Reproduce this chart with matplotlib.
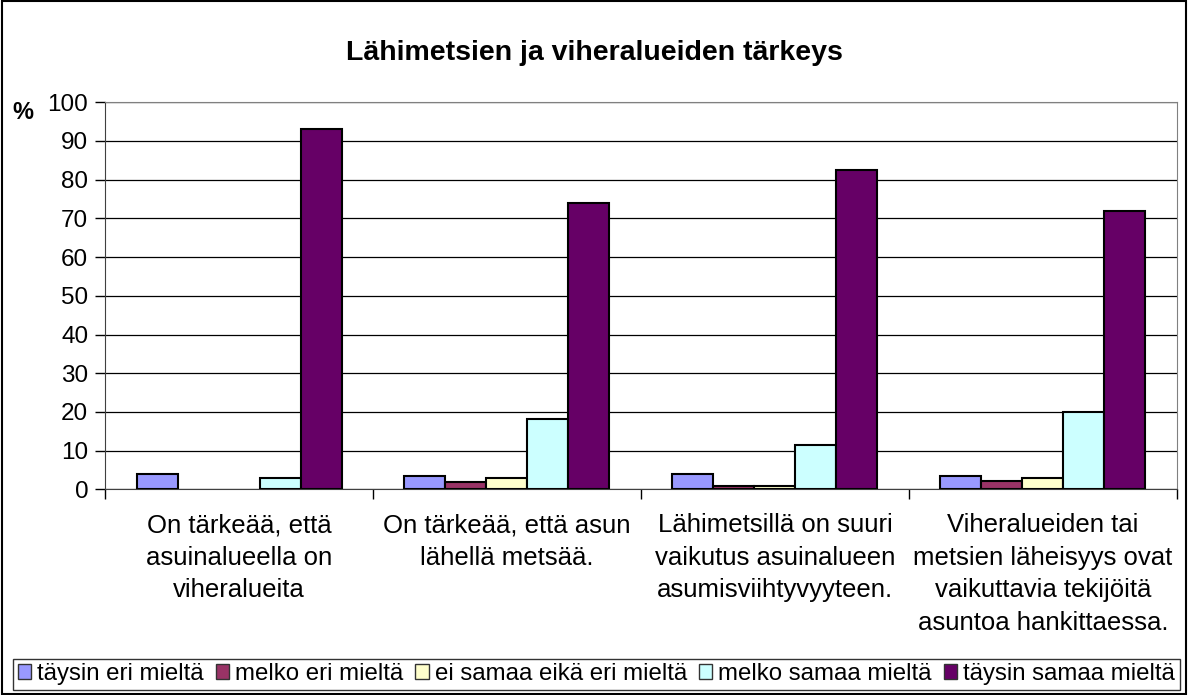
import numpy as np
import matplotlib.pyplot as plt
from matplotlib.patches import Rectangle

plt.rcParams['font.family'] = ['Liberation Sans', 'DejaVu Sans']

# 数据
categories = ['On tärkeää, että\nasuinalueella on\nviheralueita',
              'On tärkeää, että asun\nlähellä metsää.',
              'Lähimetsillä on suuri\nvaikutus asuinalueen\nasumisviihtyvyyteen.',
              'Viheralueiden tai\nmetsien läheisyys ovat\nvaikuttavia tekijöitä\nasuntoa hankittaessa.']
series_names = ['täysin eri mieltä', 'melko eri mieltä', 'ei samaa eikä eri mieltä',
                'melko samaa mieltä', 'täysin samaa mieltä']
taysin_eri = [3.9, 3.5, 3.9, 3.4]
melko_eri = [0, 1.9, 0.8, 2.1]
ei_samaa = [0, 3.0, 0.8, 3.0]
melko_samaa = [3.0, 18.1, 11.4, 19.9]
taysin_samaa = [93.0, 74.0, 82.4, 71.8]
values = [taysin_eri, melko_eri, ei_samaa, melko_samaa, taysin_samaa]
colors = ['#9999FF', '#993366', '#FFFFCC', '#CCFFFF', '#660066']

fig = plt.figure(figsize=(11.88, 6.95), dpi=100)
ax = fig.add_axes([0.0884, 0.2957, 0.9023, 0.5575])

x = np.arange(len(categories))
w = 0.153
for i, (vals, c, name) in enumerate(zip(values, colors, series_names)):
    bars = ax.bar(x + (i - 2) * w, vals, w, color=c, edgecolor='black', linewidth=1.5,
                  label=name, zorder=3)
    for b, v in zip(bars, vals):
        if v == 0:
            b.set_edgecolor('none')

ax.set_xlim(-0.5, 3.5)
ax.set_ylim(0, 100)
ax.set_yticks(range(0, 101, 10))
ax.tick_params(axis='y', labelsize=17.5, length=7, width=1, pad=5)
ax.yaxis.grid(True, color='black', linewidth=0.9, zorder=0)
ax.set_xticks(np.arange(-0.5, 4, 1))
ax.set_xticklabels([])
ax.tick_params(axis='x', length=7, width=1)
ax.set_xticks(x, minor=True)
ax.set_xticklabels(categories, minor=True, fontsize=18.5, linespacing=1.45)
ax.tick_params(axis='x', which='minor', length=0, pad=17)
for s in ['top', 'right']:
    ax.spines[s].set_color('#808080')
for s in ['left', 'bottom']:
    ax.spines[s].set_color('#404040')

fig.text(0.5, 0.924, 'Lähimetsien ja viheralueiden tärkeys', ha='center', va='center',
         fontsize=20.5, fontweight='bold')
fig.text(0.019, 0.838, '%', ha='center', va='center', fontsize=17, fontweight='bold')

# 外框
fig.patches.append(Rectangle((0.002, 0.002), 0.996, 0.996, transform=fig.transFigure,
                             fill=False, edgecolor='black', linewidth=1.5))

leg = fig.legend(loc='lower left', bbox_to_anchor=(0.011, 0.007, 0.982, 0.048),
                 mode='expand', ncol=5, fontsize=17.3,
                 frameon=True, fancybox=False, edgecolor='black', handlelength=0.55,
                 handleheight=0.6, handletextpad=0.25, columnspacing=0.3,
                 borderpad=0.2, borderaxespad=0)
leg.get_frame().set_linewidth(1.0)
for h in leg.legend_handles:
    h.set_linewidth(1.0)
    h.set_edgecolor('#333333')

fig.savefig('out.png', dpi=100)
